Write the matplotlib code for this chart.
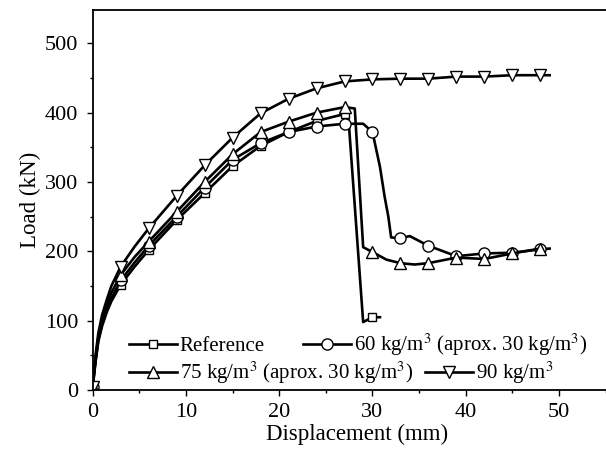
import matplotlib
matplotlib.use("Agg")
import matplotlib.pyplot as plt
import numpy as np

plt.rcParams['font.family'] = ['Liberation Serif', 'DejaVu Serif']
plt.rcParams['mathtext.fontset'] = 'stix'

# Reference
x_ref = [0, 0.3, 0.6, 1, 1.5, 2, 3, 4.5, 6, 9, 12, 15, 18, 21, 24, 27, 27.4, 29.0, 30, 30.8]
y_ref = [5, 40, 70, 92, 112, 128, 152, 178, 202, 245, 284, 323, 352, 372, 388, 398, 396, 98, 105, 105]

# 60 kg/m3
x_60 = [0, 0.3, 0.6, 1, 1.5, 2, 3, 4.5, 6, 9, 12, 15, 18, 21, 24, 27, 29, 30, 30.8, 31.3, 31.7, 32,
        33, 34, 36, 39, 42, 45, 48, 49]
y_60 = [5, 42, 72, 95, 116, 132, 158, 184, 208, 250, 292, 332, 356, 372, 380, 384, 384, 372, 322, 279, 250, 220,
        219, 222, 208, 193, 197, 198, 203, 204]

# 75 kg/m3
x_75 = [0, 0.3, 0.6, 1, 1.5, 2, 3, 4.5, 6, 9, 12, 15, 18, 21, 24, 27, 28.1, 29, 30, 31.5,
        33, 34.5, 36, 37.5, 39, 42, 45, 48]
y_75 = [5, 45, 76, 100, 122, 140, 166, 192, 214, 257, 300, 340, 372, 387, 400, 408, 406, 206, 199, 188,
        183, 181, 183, 187, 191, 189, 197, 204]

# 90 kg/m3
x_90 = [0, 0.3, 0.6, 1, 1.5, 2, 3, 4.5, 6, 9, 12, 15, 18, 21, 24, 27, 30, 33, 36, 39, 42, 45, 48, 49]
y_90 = [5, 50, 82, 108, 130, 150, 178, 207, 233, 280, 324, 364, 399, 420, 435, 445, 448, 449, 449, 452, 452,
        454, 454, 454]

labels = ['Reference',
          '60 kg/m$^3$ (aprox. 30 kg/m$^3$)',
          '75 kg/m$^3$ (aprox. 30 kg/m$^3$)',
          '90 kg/m$^3$']


def every3(xs):
    # markers only on the 3 mm grid
    return [i for i, v in enumerate(xs) if float(v) % 3 == 0]


fig = plt.figure(figsize=(6.06, 4.66), dpi=100)
ax = fig.add_axes([0.153, 0.163, 0.871, 0.8155])

style = dict(color='black', linewidth=1.9, markerfacecolor='white', markeredgecolor='black',
             markeredgewidth=1.0)
l1, = ax.plot(x_ref, y_ref, marker='s', markersize=6, markevery=every3(x_ref), label=labels[0], **style)
l2, = ax.plot(x_60, y_60, marker='o', markersize=8, markevery=every3(x_60), label=labels[1], **style)
l3, = ax.plot(x_75, y_75, marker='^', markersize=9, markevery=every3(x_75), label=labels[2], **style)
l4, = ax.plot(x_90, y_90, marker='v', markersize=9, markevery=every3(x_90), label=labels[3], **style)

ax.set_xlim(0, 56.6)
ax.set_ylim(0, 548)
ax.set_xticks([0, 10, 20, 30, 40, 50])
ax.set_xticks(np.arange(5, 56, 10), minor=True)
ax.set_yticks([0, 100, 200, 300, 400, 500])
ax.set_yticks(np.arange(50, 548, 100), minor=True)
ax.tick_params(which='major', direction='out', length=4.5, width=1, labelsize=16)
ax.tick_params(axis='y', which='major', pad=6)
ax.tick_params(axis='x', which='major', pad=5)
ax.tick_params(which='minor', direction='out', length=2.5, width=1)
ax.spines['right'].set_visible(False)
for s in ['left', 'bottom', 'top']:
    ax.spines[s].set_linewidth(1.3)

ax.set_xlabel('Displacement (mm)', fontsize=16.5, labelpad=1)
ax.set_ylabel('Load (kN)', fontsize=16.5, labelpad=3)

leg1 = ax.legend([l1, l2], labels[:2], ncol=2, frameon=False, fontsize=15,
                 loc='center left', bbox_to_anchor=(0.068, 0.118), handlelength=2.3,
                 handletextpad=0.15, columnspacing=1.85, borderaxespad=0, borderpad=0)
ax.add_artist(leg1)
ax.legend([l3, l4], labels[2:], ncol=2, frameon=False, fontsize=15,
          loc='center left', bbox_to_anchor=(0.068, 0.045), handlelength=2.3,
          handletextpad=0.15, columnspacing=0.6, borderaxespad=0, borderpad=0)

fig.savefig('out.png', dpi=100)
